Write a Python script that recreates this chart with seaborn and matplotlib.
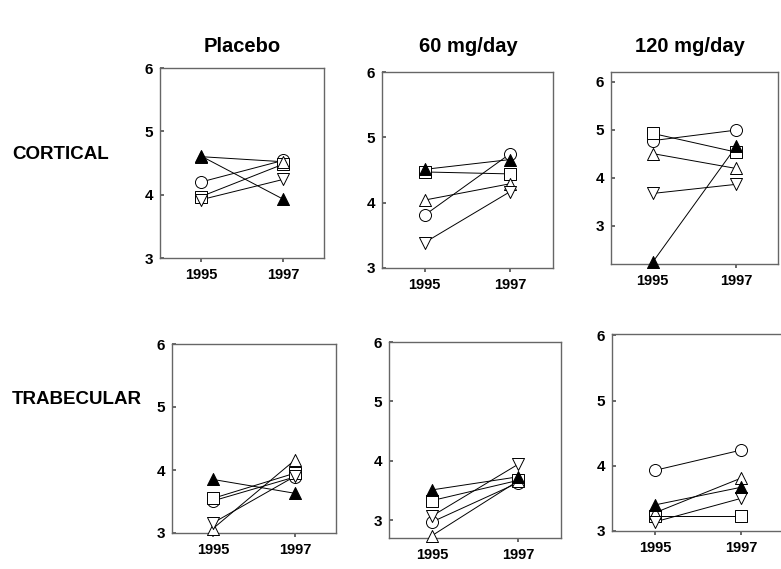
import matplotlib
matplotlib.use("Agg")
import matplotlib.pyplot as plt
import seaborn as sns
import pandas as pd

sns.set_theme(style="white")
plt.rcParams['font.family'] = ['Liberation Sans', 'DejaVu Sans']
plt.rcParams['text.color'] = 'black'
plt.rcParams['xtick.color'] = 'black'
plt.rcParams['ytick.color'] = 'black'
plt.rcParams['axes.labelcolor'] = 'black'

years = [1995, 1997]
subjects = ["circle", "square", "triangle_open", "triangle_down", "triangle_filled"]

# values per panel: subject -> [1995, 1997]
cort_placebo = {"circle": [4.20, 4.54], "square": [3.97, 4.48], "triangle_open": [4.60, 4.52],
                "triangle_down": [3.92, 4.24], "triangle_filled": [4.61, 3.93]}
cort_60 = {"circle": [3.81, 4.75], "square": [4.47, 4.44], "triangle_open": [4.04, 4.29],
           "triangle_down": [3.39, 4.17], "triangle_filled": [4.51, 4.66]}
cort_120 = {"circle": [4.77, 4.99], "square": [4.92, 4.53], "triangle_open": [4.50, 4.19],
            "triangle_down": [3.67, 3.86], "triangle_filled": [2.24, 4.65]}
trab_placebo = {"circle": [3.51, 3.89], "square": [3.55, 3.95], "triangle_open": [3.07, 4.16],
                "triangle_down": [3.16, 3.90], "triangle_filled": [3.85, 3.63]}
trab_60 = {"circle": [2.97, 3.63], "square": [3.33, 3.67], "triangle_open": [2.74, 3.66],
           "triangle_down": [3.07, 3.94], "triangle_filled": [3.51, 3.73]}
trab_120 = {"circle": [3.93, 4.24], "square": [3.23, 3.23], "triangle_open": [3.28, 3.81],
            "triangle_down": [3.14, 3.50], "triangle_filled": [3.40, 3.67]}

col_titles = ["Placebo", "60 mg/day", "120 mg/day"]
row_labels = ["CORTICAL", "TRABECULAR"]
ytick_vals = [3, 4, 5, 6]

marker_map = {"circle": "o", "square": "s", "triangle_open": "^",
              "triangle_down": "v", "triangle_filled": "^"}
face_map = {"circle": "white", "square": "white", "triangle_open": "white",
            "triangle_down": "white", "triangle_filled": "black"}

W, H = 781, 569
fig = plt.figure(figsize=(W / 100, H / 100), dpi=100)

# panel boxes in pixels: (left, right, top, bottom), ylim
panels = [
    (cort_placebo, (160, 324, 68, 258), (3.0, 6.0)),
    (cort_60, (382, 553, 72, 268), (3.0, 6.0)),
    (cort_120, (611, 778, 72, 264), (2.2, 6.2)),
    (trab_placebo, (172, 336, 344, 533), (3.0, 6.0)),
    (trab_60, (389, 561, 342, 538), (2.7, 6.0)),
    (trab_120, (612, 784, 334, 531), (3.0, 6.02)),
]

axes = []
for data, (l, r, t, b), ylim in panels:
    ax = fig.add_axes([l / W, 1 - b / H, (r - l) / W, (b - t) / H])
    rows = []
    for s in subjects:
        for y, v in zip(years, data[s]):
            rows.append({"subject": s, "year": y, "value": v})
    df = pd.DataFrame(rows)
    sns.lineplot(data=df, x="year", y="value", units="subject", estimator=None,
                 color="black", lw=0.7, ax=ax, legend=False, zorder=2)
    for s in subjects:
        sub = df[df.subject == s]
        sns.scatterplot(data=sub, x="year", y="value", marker=marker_map[s],
                        color=face_map[s], edgecolor="black", linewidth=0.7,
                        s=75, ax=ax, legend=False, zorder=3, clip_on=False)
    ax.set_xlim(1994, 1998)
    ax.set_ylim(*ylim)
    ax.set_xticks(years)
    ax.set_xticklabels([str(y) for y in years], fontsize=10.5, fontweight="bold")
    ax.set_yticks(ytick_vals)
    ax.set_yticklabels([str(v) for v in ytick_vals], fontsize=11, fontweight="bold")
    ax.tick_params(axis="y", direction="in", length=3, pad=5, left=True, color="#555555")
    ax.tick_params(axis="x", direction="out", length=3, pad=4, bottom=True, color="#555555")
    ax.set_xlabel("")
    ax.set_ylabel("")
    for sp in ax.spines.values():
        sp.set_color("#666666")
        sp.set_linewidth(1.0)
    axes.append(ax)

# column titles
for x, t in zip([242, 468, 690], col_titles):
    fig.text(x / W, 1 - 47 / H, t, ha="center", va="center", fontsize=14.5, fontweight="bold")
# row labels
fig.text(12 / W, 1 - 155 / H, row_labels[0], ha="left", va="center", fontsize=13.5, fontweight="bold")
fig.text(12 / W, 1 - 400 / H, row_labels[1], ha="left", va="center", fontsize=13.5, fontweight="bold")

fig.savefig("out.png", dpi=100)
